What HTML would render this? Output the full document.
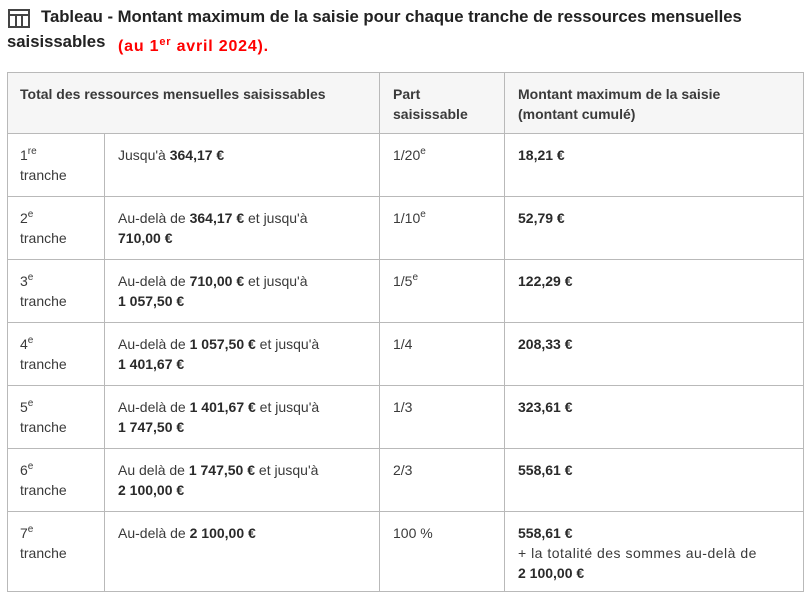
<!DOCTYPE html>
<html><head><meta charset="utf-8"><style>
body{margin:0;width:811px;height:599px;background:#fff;position:relative;font-family:"Liberation Sans",sans-serif;color:#333;overflow:hidden}
.a{position:absolute;white-space:nowrap}
.t{font-size:14px;line-height:20px;color:#3a3a3a}
b{font-weight:bold;color:#2a2a2a}
sup{font-size:10px;line-height:0;vertical-align:6px}
.h{position:absolute;height:1px;background:#b9b9b9;left:7px;width:797px}
.v{position:absolute;width:1px;background:#b9b9b9}
</style></head><body>
<div class="a" style="left:8px;top:9px;width:22px;height:19px;border:2px solid #444;box-sizing:border-box"></div>
<div class="a" style="left:8px;top:14px;width:22px;height:2px;background:#444"></div>
<div class="a" style="left:15px;top:14px;width:2px;height:14px;background:#444"></div>
<div class="a" style="left:21px;top:14px;width:2px;height:14px;background:#444"></div>
<div class="a" style="left:41px;top:7px;font-size:16.7px;font-weight:bold;color:#222">Tableau - Montant maximum de la saisie pour chaque tranche de ressources mensuelles</div>
<div class="a" style="left:7px;top:32px;font-size:16.7px;font-weight:bold;color:#222">saisissables</div>
<div class="a" style="left:118px;top:38px;font-size:16px;font-weight:bold;color:#f00;letter-spacing:0.8px">(au 1<sup style="font-size:11px">er</sup> avril 2024).</div>

<div class="a" style="left:7px;top:72px;width:797px;height:61px;background:#f6f6f6"></div>
<div class="h" style="top:72px"></div><div class="h" style="top:133px"></div>
<div class="h" style="top:196px"></div><div class="h" style="top:259px"></div>
<div class="h" style="top:322px"></div><div class="h" style="top:385px"></div>
<div class="h" style="top:448px"></div><div class="h" style="top:511px"></div>
<div class="h" style="top:591px"></div>
<div class="v" style="left:7px;top:72px;height:520px"></div>
<div class="v" style="left:803px;top:72px;height:520px"></div>
<div class="v" style="left:379px;top:72px;height:520px"></div>
<div class="v" style="left:504px;top:72px;height:520px"></div>
<div class="v" style="left:104px;top:133px;height:459px"></div>

<div class="a t" style="left:20px;top:84px;font-weight:bold">Total des ressources mensuelles saisissables</div>
<div class="a t" style="left:393px;top:84px;font-weight:bold">Part<br>saisissable</div>
<div class="a t" style="left:518px;top:84px;font-weight:bold">Montant maximum de la saisie<br>(montant cumulé)</div>

<div class="a t" style="left:20px;top:145px">1<sup>re</sup><br>tranche</div>
<div class="a t" style="left:118px;top:145px">Jusqu'à <b>364,17 €</b></div>
<div class="a t" style="left:393px;top:145px">1/20<sup>e</sup></div>
<div class="a t" style="left:518px;top:145px"><b>18,21 €</b></div>

<div class="a t" style="left:20px;top:208px">2<sup>e</sup><br>tranche</div>
<div class="a t" style="left:118px;top:208px">Au-delà de <b>364,17 €</b> et jusqu'à<br><b>710,00 €</b></div>
<div class="a t" style="left:393px;top:208px">1/10<sup>e</sup></div>
<div class="a t" style="left:518px;top:208px"><b>52,79 €</b></div>

<div class="a t" style="left:20px;top:271px">3<sup>e</sup><br>tranche</div>
<div class="a t" style="left:118px;top:271px">Au-delà de <b>710,00 €</b> et jusqu'à<br><b>1 057,50 €</b></div>
<div class="a t" style="left:393px;top:271px">1/5<sup>e</sup></div>
<div class="a t" style="left:518px;top:271px"><b>122,29 €</b></div>

<div class="a t" style="left:20px;top:334px">4<sup>e</sup><br>tranche</div>
<div class="a t" style="left:118px;top:334px">Au-delà de <b>1 057,50 €</b> et jusqu'à<br><b>1 401,67 €</b></div>
<div class="a t" style="left:393px;top:334px">1/4</div>
<div class="a t" style="left:518px;top:334px"><b>208,33 €</b></div>

<div class="a t" style="left:20px;top:397px">5<sup>e</sup><br>tranche</div>
<div class="a t" style="left:118px;top:397px">Au-delà de <b>1 401,67 €</b> et jusqu'à<br><b>1 747,50 €</b></div>
<div class="a t" style="left:393px;top:397px">1/3</div>
<div class="a t" style="left:518px;top:397px"><b>323,61 €</b></div>

<div class="a t" style="left:20px;top:460px">6<sup>e</sup><br>tranche</div>
<div class="a t" style="left:118px;top:460px">Au delà de <b>1 747,50 €</b> et jusqu'à<br><b>2 100,00 €</b></div>
<div class="a t" style="left:393px;top:460px">2/3</div>
<div class="a t" style="left:518px;top:460px"><b>558,61 €</b></div>

<div class="a t" style="left:20px;top:523px">7<sup>e</sup><br>tranche</div>
<div class="a t" style="left:118px;top:523px">Au-delà de <b>2 100,00 €</b></div>
<div class="a t" style="left:393px;top:523px">100 %</div>
<div class="a t" style="left:518px;top:523px"><b>558,61 €</b><br><span style="letter-spacing:0.5px">+ la totalité des sommes au-delà de</span><br><b>2 100,00 €</b></div>
</body></html>
